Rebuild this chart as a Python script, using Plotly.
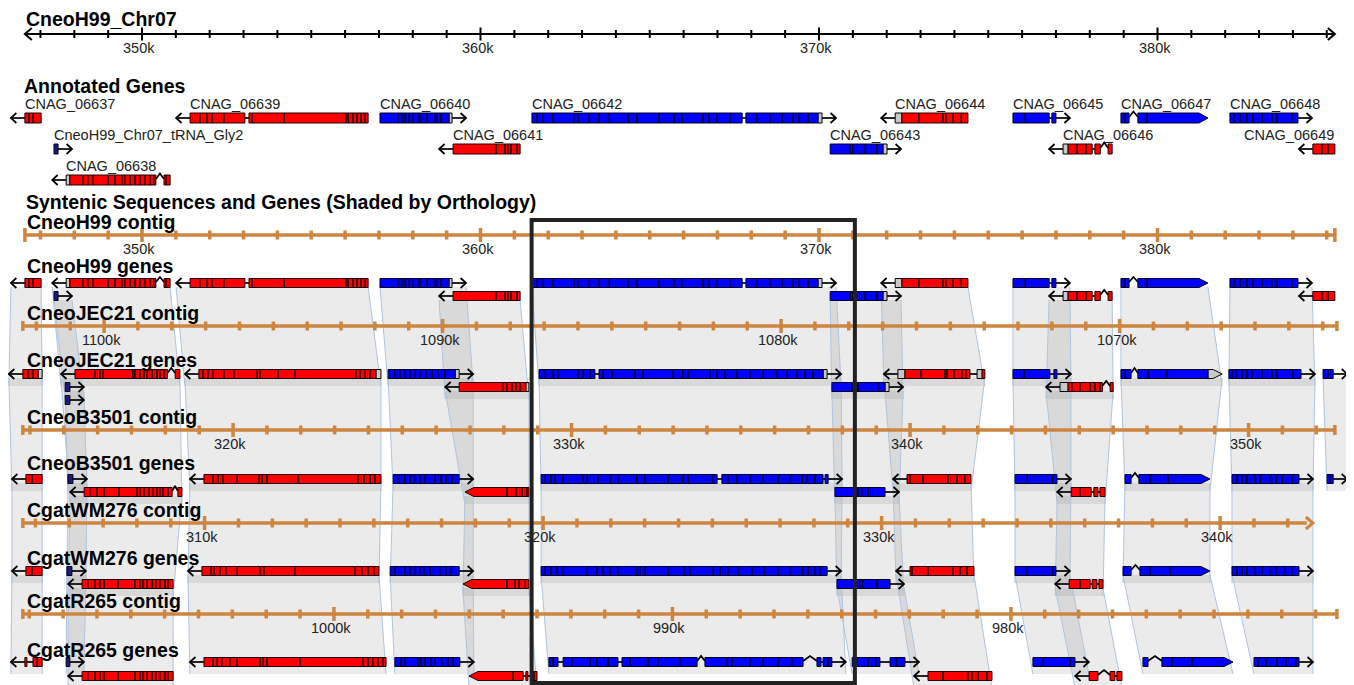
import math
import plotly.graph_objects as go

# ---------------------------------------------------------------- data ----
VIEW_KB = [345.805, 385.805]          # window on CneoH99 Chr07 (kb)
RULER_KB = [346.54, 385.24]

TRACK_NAMES = ["CneoH99", "CneoJEC21", "CneoB3501", "CgatWM276", "CgatR265"]
CONTIG_REF_COORD = [350, 1100, 320, 310, 1000]        # contig coordinate (kb) of a reference tick
CONTIG_REF_POS = [350.00, 348.88, 352.69, 351.85, 355.67]  # same tick in H99 frame (kb)
CONTIG_DIR = [1, -1, 1, 1, -1]
CONTIG_START = [346.54, 346.48, 346.48, 346.48, 346.48]
CONTIG_END = [385.24, 385.30, 385.24, 384.59, 385.30]
CONTIG_ARROW_END = [False, False, False, True, False]

HIGHLIGHT_KB = [361.51, 371.06]

GENE_LABEL = {"tRNA": "CneoH99_Chr07_tRNA_Gly2"}

# gene: (id, strand, exon runs ["^" = spliced caret intron], UTR boxes, pointed)
H99_GENES = [
    ("06637", "-", [[346.54, 346.66, 346.78, 347.02]], [], False),
    ("tRNA", "+", [[347.40, 347.52]], [], False),
    ("06638", "-", [[347.87, 348.26, 348.40, 348.55, 349.00, 349.20, 349.41, 349.50, 349.65, 349.79, 349.94, 350.09, 350.24, 350.35, 350.41], "^", [350.65, 350.71, 350.83]], [[347.76, 347.87]], False),
    ("06639", "-", [[351.42, 351.71, 351.92, 352.07, 352.42, 353.04], [353.16, 353.25, 354.20, 356.03, 356.09, 356.23, 356.35, 356.47, 356.59, 356.68]], [], False),
    ("06640", "+", [[357.03, 357.56, 357.68, 357.77, 357.89, 358.01, 358.15, 358.21, 358.42, 358.66, 358.72, 358.83, 359.07]], [[359.07, 359.16]], False),
    ("06641", "-", [[359.19, 360.46, 360.72, 360.81, 360.90, 361.08, 361.17]], [], False),
    ("06642", "+", [[361.52, 361.67, 361.85, 362.14, 362.76, 362.88, 363.21, 363.50, 363.80, 364.36, 364.62, 365.27, 365.72, 365.95, 366.57, 366.75, 366.99, 367.37, 367.73], [367.84, 368.17, 368.55, 368.91, 369.23, 369.41, 369.68, 369.97]], [[369.97, 370.09]], False),
    ("06643", "+", [[370.33, 370.92, 371.00, 371.36, 371.71, 371.89]], [[371.89, 372.01]], False),
    ("06644", "-", [[372.45, 372.95, 373.66, 373.75, 373.96, 374.20, 374.40]], [[372.25, 372.45]], False),
    ("06645", "+", [[375.73, 376.09, 376.80], [376.88, 377.00]], [], False),
    ("06646", "-", [[377.36, 377.62, 377.89, 378.07], [378.15, 378.31], "^", [378.54, 378.66]], [[377.21, 377.36]], False),
    ("06647", "+", [[378.92, 379.04, 379.16], "^", [379.42, 379.69, 381.49]], [], True),
    ("06648", "+", [[382.14, 382.26, 382.44, 382.64, 382.82, 383.09, 383.38, 383.53, 383.97, 384.15]], [], False),
    ("06649", "-", [[384.59, 384.86, 385.04, 385.24]], [], False),
]
ANNOT_ROW = [1, 2, 3, 1, 1, 2, 1, 2, 1, 1, 2, 1, 1, 2]
H99_ROW = [1, 2, 1, 1, 1, 2, 1, 2, 1, 1, 2, 1, 1, 2]

JEC21_GENES = [
    ("06637", "-", [[346.48, 346.63, 346.78, 346.93]], [[346.93, 347.05]], False, 1),
    ("tRNA", "+", [[347.73, 347.87]], [], False, 2),
    ("tRNA_b", "+", [[347.73, 347.87]], [], False, 3),
    ("06638", "-", [[348.02, 348.61, 348.76, 348.85, 349.73, 349.79, 349.94, 350.06, 350.15, 350.30, 350.44, 350.53, 350.65, 350.75], "^", [350.98, 351.12]], [], False, 1),
    ("06639", "-", [[351.68, 351.80, 351.95, 352.10, 352.42, 352.72, 353.40, 353.49, 354.02, 354.52, 356.32, 356.44, 356.59, 356.74, 356.91]], [[356.91, 357.06]], False, 1),
    ("06640", "+", [[357.27, 357.47, 357.62, 357.77, 357.92, 358.07, 358.21, 358.39, 358.57, 358.74, 358.95, 359.25]], [[359.25, 359.37]], False, 1),
    ("06641", "-", [[359.37, 360.67, 360.78, 360.93, 361.05, 361.17, 361.34]], [[361.34, 361.43]], False, 2),
    ("06642", "+", [[361.73, 361.91, 362.14, 362.29, 362.88, 363.03, 363.24, 363.38], [363.50, 363.62, 363.89, 364.56, 364.80, 365.69, 365.98, 366.13, 366.78, 366.99, 367.22, 367.58, 367.96, 368.35, 368.76, 369.06, 369.35, 369.59, 369.82, 370.12]], [[370.12, 370.24]], False, 1),
    ("06643", "+", [[370.38, 370.98, 371.15, 371.74, 371.95]], [[371.95, 372.07]], False, 2),
    ("06644", "-", [[372.54, 373.01, 373.72, 373.78, 373.99, 374.22, 374.34, 374.46], [374.82, 374.90]], [[372.33, 372.54], [374.67, 374.82]], False, 1),
    ("06645", "+", [[375.73, 376.06, 376.82], [376.94, 377.03]], [], False, 1),
    ("06646", "-", [[377.36, 377.47, 377.71, 378.01, 378.15, 378.30, 378.37], "^", [378.60, 378.69]], [[377.12, 377.36]], False, 2),
    ("06647", "+", [[378.92, 379.04, 379.22], "^", [379.42, 379.72, 380.28, 381.49]], [[381.49, 381.91]], True, 1),
    ("06648", "+", [[382.11, 382.20, 382.32, 382.50, 382.64, 382.79, 383.09, 383.38, 383.53, 384.00, 384.24]], [], False, 1),
    ("X", "+", [[384.89, 385.04, 385.19]], [], False, 1),
]

B3501_GENES = [
    ("06637", "-", [[346.57, 346.75, 347.05]], [], False, 1),
    ("tRNA", "+", [[347.81, 347.96]], [], False, 1),
    ("06638", "-", [[348.29, 348.46, 348.67, 348.88, 349.32, 349.85, 349.94, 350.06, 350.21, 350.33, 350.44, 350.53, 350.62, 350.77, 350.89], "^", [351.06, 351.18]], [], False, 2),
    ("06639", "-", [[351.83, 352.10, 352.25, 352.39, 352.81, 353.46, 353.55, 353.69, 354.61, 356.38, 356.56, 356.74, 356.88, 357.06]], [], False, 1),
    ("06640", "+", [[357.42, 357.56, 357.77, 357.92, 358.07, 358.21, 358.36, 358.66, 358.83, 358.98, 359.16, 359.37]], [], False, 1),
    ("06641", "-", [[359.54, 360.78, 361.05, 361.23, 361.37, 361.43]], [], True, 2),
    ("06642", "+", [[361.79, 361.91, 362.08, 362.20, 362.44, 363.03, 363.15, 363.47, 363.83, 364.06, 364.62, 364.86, 365.54, 365.98, 366.13, 366.87, 366.99], [367.13, 367.31, 367.58, 367.96, 368.35, 368.79, 369.14, 369.50, 369.65, 369.88, 370.12], [370.18, 370.27]], [], False, 1),
    ("06643", "+", [[370.47, 371.15, 371.27, 371.45, 371.95]], [], False, 2),
    ("06644", "-", [[372.60, 372.69, 373.07, 373.81, 374.08, 374.31, 374.49]], [], False, 1),
    ("06645", "+", [[375.79, 376.15, 376.91, 377.03]], [], False, 1),
    ("06646", "-", [[377.45, 377.71, 378.04], [378.12, 378.24], [378.30, 378.45]], [], False, 2),
    ("06647", "+", [[379.04, 379.22], "^", [379.45, 379.78, 380.31, 381.55]], [], True, 1),
    ("06648", "+", [[382.20, 382.35, 382.50, 382.64, 382.88, 383.03, 383.32, 383.50, 383.68, 383.97, 384.18]], [], False, 1),
    ("X", "+", [[385.01, 385.10, 385.19]], [], False, 1),
]

WM276_GENES = [
    ("06637", "-", [[346.57, 346.75, 347.05]], [], False, 1),
    ("tRNA", "+", [[347.78, 347.93]], [], False, 1),
    ("06638", "-", [[348.23, 348.40, 348.61, 348.76, 348.88, 349.29, 349.79, 349.94, 350.03, 350.15, 350.30, 350.41, 350.53, 350.68, 350.77, 350.92]], [], False, 2),
    ("06639", "-", [[351.77, 352.04, 352.13, 352.30, 352.48, 352.81, 353.49, 353.60, 354.52, 356.29, 356.50, 356.68, 356.85, 357.00]], [], False, 1),
    ("06640", "+", [[357.33, 357.47, 357.77, 357.92, 358.07, 358.21, 358.33, 358.51, 358.80, 358.98, 359.13, 359.37]], [], False, 1),
    ("06641", "-", [[359.48, 360.78, 361.02, 361.14, 361.32, 361.43]], [], True, 2),
    ("06642", "+", [[361.79, 361.91, 362.08, 362.26, 362.44, 363.15, 363.44, 363.62, 363.83, 364.06, 364.62, 364.71, 364.86, 365.54, 366.01, 366.19, 366.87, 367.08, 367.31, 367.61, 368.02, 368.38, 368.79, 369.14, 369.50, 369.68, 369.88, 370.03, 370.24]], [], False, 1),
    ("06643", "+", [[370.53, 371.21, 371.30, 371.71, 372.10]], [], False, 2),
    ("06644", "-", [[372.69, 372.75, 373.22, 373.96, 374.17, 374.37, 374.58]], [], False, 1),
    ("06645", "+", [[375.79, 376.15, 376.91, 377.00]], [], False, 1),
    ("06646", "-", [[377.39, 377.71, 378.01], [378.07, 378.21], [378.27, 378.39]], [], False, 2),
    ("06647", "+", [[378.98, 379.22], "^", [379.48, 379.78, 380.37, 381.55]], [], True, 1),
    ("06648", "+", [[382.20, 382.35, 382.50, 382.64, 382.88, 383.09, 383.32, 383.50, 383.77, 383.97, 384.18]], [], False, 1),
]

R265_GENES = [
    ("06637", "-", [[346.54, 346.60], [346.78, 346.90, 347.05]], [], False, 1),
    ("tRNA", "+", [[347.76, 347.87]], [], False, 1),
    ("06638", "-", [[348.23, 348.40, 348.61, 348.76, 348.88, 349.29, 349.79, 349.94, 350.03, 350.15, 350.30, 350.41, 350.53, 350.68, 350.77, 350.92]], [], False, 2),
    ("06639", "-", [[351.83, 352.10, 352.22, 352.36, 352.60, 352.81, 353.49, 353.58, 353.69, 354.67, 356.53, 356.68, 356.82, 356.97, 357.12, 357.21]], [], False, 1),
    ("06640", "+", [[357.47, 357.65, 357.77, 358.15, 358.24, 358.36, 358.54, 358.66, 358.86, 359.04, 359.19, 359.39]], [], False, 1),
    ("06641", "-", [[359.66, 360.96, 361.26], [361.34, 361.40], [361.49, 361.58, 361.67]], [], True, 2),
    ("06642", "+", [[362.02, 362.14, 362.29], [362.44, 362.70, 363.24, 363.44, 363.77, 364.06], [364.18, 364.42, 364.95, 365.24, 365.89, 366.40], "^", [366.63, 367.28, 367.43, 367.96, 368.35, 368.79, 369.20, 369.53], "^", [369.94, 370.06], [370.12, 370.27, 370.38]], [], False, 1),
    ("06643", "+", [[370.98, 371.45, 371.68, 371.80], [372.10, 372.28, 372.54]], [], False, 1),
    ("06644", "-", [[373.22, 373.66, 374.40, 374.52, 374.70, 374.96, 375.11]], [], False, 2),
    ("06645", "+", [[376.32, 376.62, 377.42, 377.56]], [], False, 1),
    ("06646", "-", [[377.98, 378.24], "^", [378.60, 378.74], [378.80, 378.95]], [], False, 2),
    ("06647", "+", [[379.57, 379.72], "^", [380.13, 380.43, 381.02, 382.23]], [], True, 1),
    ("06648", "+", [[382.85, 382.97, 383.21, 383.53, 383.80, 384.09, 384.18]], [], False, 1),
]

# -------------------------------------------------------------- layout ----
W, H = 1354, 685
PAGE_OFF = 8            # browser body margin: shift drawing so it lands on the window grid
PX = (VIEW_KB[1] - VIEW_KB[0]) / W
FONT = "Liberation Sans, Arial, Helvetica, sans-serif"
RED, BLUE, TRNA, UTR_GRAY = "#ff0000", "#0000ff", "#1c1c78", "#c8c8c8"
PERU = "#cd853f"

ANNOT_ROW_Y = {1: 118, 2: 149, 3: 180}
TRACK_ROW_Y = [{1: 283, 2: 296}, {1: 374, 2: 387, 3: 400}, {1: 479, 2: 492},
               {1: 571, 2: 584}, {1: 662, 2: 676}]
CONTIG_Y = [235, 326, 430, 523, 614]
GENES_HEAD_Y = [266, 360, 463, 558, 650]
RULER_Y = 34

shapes, annotations = [], []


def px_paper(px):
    return (px - PAGE_OFF) / W


def text(x, y, s, size, bold=False, xref="x", anchor="left", color="#222", xshift=0):
    annotations.append(dict(x=x, y=y, xref=xref, yref="y", text=(f"<b>{s}</b>" if bold else s),
                            showarrow=False, xanchor=anchor, yanchor="middle", borderpad=0,
                            xshift=xshift, font=dict(family=FONT, size=size, color=color)))


def new_acc():
    return {k: ([], []) for k in ("line", "red", "blue", "trna", "utr")}


def add_path(acc, key, pts, close=False):
    xs, ys = acc[key]
    p = pts + ([pts[0]] if close else [])
    xs.extend([q[0] for q in p] + [None])
    ys.extend([q[1] for q in p] + [None])


def parse_runs(runs):
    blocks, introns, caret, prev = [], [], False, None
    for r in runs:
        if r == "^":
            caret = True
            continue
        if prev is not None:
            introns.append((prev, r[0], caret))
        caret = False
        blocks.extend(zip(r[:-1], r[1:]))
        prev = r[-1]
    return blocks, introns


def box_pts(a, b, y, hh, point=None):
    pt = min(9 * PX, b - a)
    if point == "+":
        return [(a, y - hh), (b - pt, y - hh), (b, y), (b - pt, y + hh), (a, y + hh)]
    if point == "-":
        return [(a, y), (a + pt, y - hh), (b, y - hh), (b, y + hh), (a + pt, y + hh)]
    return [(a, y - hh), (b, y - hh), (b, y + hh), (a, y + hh)]


def render_gene(gene, y, hh, acc):
    gid, strand, runs, utrs, pointed = gene[:5]
    blocks, introns = parse_runs(runs)
    utr_boxes = [tuple(u) for u in utrs]
    every = blocks + utr_boxes
    start = min(b[0] for b in every)
    end = max(b[1] for b in every)
    tip_box = None
    if pointed:
        tip_box = max(every, key=lambda b: b[1]) if strand == "+" else min(every, key=lambda b: b[0])
    for a, b, caret in introns:
        if caret:
            add_path(acc, "line", [(a, y - 1), ((a + b) / 2, y - hh - 1.5), (b, y - 1)])
        else:
            add_path(acc, "line", [(a, y), (b, y)])
    lo, hi = start, end
    if not pointed:
        d = 1 if strand == "+" else -1
        base = end if strand == "+" else start
        tip = base + d * 14 * PX
        add_path(acc, "line", [(base, y), (tip, y)])
        add_path(acc, "line", [(tip - d * 5.5 * PX, y - 5), (tip, y), (tip - d * 5.5 * PX, y + 5)])
        lo, hi = min(lo, tip), max(hi, tip)
    if gid.startswith("tRNA"):
        col = "trna"
    else:
        col = "blue" if strand == "+" else "red"
    for bx in blocks:
        add_path(acc, col, box_pts(bx[0], bx[1], y, hh, strand if bx == tip_box else None), close=True)
    for bx in utr_boxes:
        add_path(acc, "utr", box_pts(bx[0], bx[1], y, hh, strand if bx == tip_box else None), close=True)
    return start, end, lo, hi


acc = new_acc()

# ---- annotated genes (top)
for g, r in zip(H99_GENES, ANNOT_ROW):
    y = ANNOT_ROW_Y[r]
    start, end, lo, hi = render_gene(g, y, 5, acc)
    label = GENE_LABEL.get(g[0], "CNAG_" + g[0])
    if start + 95 * PX > VIEW_KB[1] - 12 * PX:
        text(end, y - 14, label, 14.5, anchor="right")
    else:
        text(start, y - 14, label, 14.5, xshift=-1)

# ---- syntenic gene tracks
track_genes = [[g + (r,) for g, r in zip(H99_GENES, H99_ROW)], JEC21_GENES, B3501_GENES,
               WM276_GENES, R265_GENES]
extents = []
for ti, genes in enumerate(track_genes):
    ext = {}
    for g in genes:
        y = TRACK_ROW_Y[ti][g[5]]
        _, _, lo, hi = render_gene(g, y, 4.5, acc)
        ext[g[0]] = (lo, hi, y)
    extents.append(ext)

# ---- orthology shading between consecutive tracks
edge_x, edge_y = [], []
for ti in range(len(extents) - 1):
    A, B = extents[ti], extents[ti + 1]
    for gid, (loA, hiA, yA) in A.items():
        if gid not in B:
            continue
        loB, hiB, yB = B[gid]
        ya, yb = yA + 4, yB + 12
        shapes.append(dict(type="path", xref="x", yref="y", layer="below",
                           path=f"M{loA},{ya} L{hiA},{ya} L{hiB},{yb} L{loB},{yb} Z",
                           fillcolor="rgba(110,110,110,0.14)", line=dict(width=0)))
        edge_x += [loA, loB, None, hiA, hiB, None]
        edge_y += [ya, yb, None, ya, yb, None]

fig = go.Figure()


def lines_trace(xs, ys, color, width):
    fig.add_trace(go.Scatter(x=xs, y=ys, mode="lines", line=dict(color=color, width=width),
                             hoverinfo="skip", showlegend=False))


def fill_trace(xs, ys, fill, outline="#000000", width=1):
    fig.add_trace(go.Scatter(x=xs, y=ys, mode="lines", fill="toself", fillcolor=fill,
                             line=dict(color=outline, width=width), hoverinfo="skip",
                             showlegend=False))


lines_trace(edge_x, edge_y, "#b0c4de", 1)

# ---- contigs
for ci in range(len(TRACK_NAMES)):
    y = CONTIG_Y[ci]
    s, e = CONTIG_START[ci], CONTIG_END[ci]
    ref_c, ref_p, d = CONTIG_REF_COORD[ci], CONTIG_REF_POS[ci], CONTIG_DIR[ci]
    line_end = e - (6 * PX if CONTIG_ARROW_END[ci] else 0)
    lines_trace([s, line_end], [y, y], PERU, 3.5)
    c_lo = ref_c + d * (s - ref_p)
    c_hi = ref_c + d * (e - ref_p)
    c_lo, c_hi = min(c_lo, c_hi), max(c_lo, c_hi)
    mx, my, Mx, My = [], [], [], []
    for c in range(math.ceil(c_lo), math.floor(c_hi) + 1):
        p = ref_p + d * (c - ref_c)
        if c % 10 == 0:
            Mx += [p, p, None]
            My += [y - 7, y + 7, None]
            text(p, y + 13.5, f"{c}k", 14.5, anchor="center", xshift=-3)
        else:
            mx += [p, p, None]
            my += [y - 4.5, y + 4.5, None]
    caps = [s] + ([] if CONTIG_ARROW_END[ci] else [e])
    ch = 7 if ci == 0 else 5
    for p in caps:
        Mx += [p, p, None]
        My += [y - ch, y + ch, None]
    lines_trace(mx, my, PERU, 3.5)
    lines_trace(Mx, My, PERU, 3.5)
    if CONTIG_ARROW_END[ci]:
        lines_trace([e - 7 * PX, e, e - 7 * PX], [y - 6, y, y + 6], PERU, 3)
    text(px_paper(26), y - 13, f"{TRACK_NAMES[ci]} contig", 19.5, bold=True, xref="paper",
         color="#000")
    text(px_paper(26), GENES_HEAD_Y[ci], f"{TRACK_NAMES[ci]} genes", 19.5, bold=True,
         xref="paper", color="#000")

# ---- top ruler (H99 Chr07)
rs, re_ = RULER_KB
lines_trace([rs, re_], [RULER_Y, RULER_Y], "#000", 2)
lines_trace([rs + 7 * PX, rs, rs + 7 * PX], [RULER_Y - 6, RULER_Y, RULER_Y + 6], "#000", 2)
lines_trace([re_ - 7 * PX, re_, re_ - 7 * PX], [RULER_Y - 6, RULER_Y, RULER_Y + 6], "#000", 2)
tx, ty = [], []
for c in range(math.ceil(rs), math.floor(re_) + 1):
    h = 6.5 if c % 10 == 0 else 4
    tx += [c, c, None]
    ty += [RULER_Y - h, RULER_Y + h, None]
    if c % 10 == 0:
        text(c, RULER_Y + 14, f"{c}k", 14.5, anchor="center", xshift=-3)
lines_trace(tx, ty, "#000", 2)

# ---- genes
lines_trace(acc["line"][0], acc["line"][1], "#000", 1.7)
fill_trace(acc["utr"][0], acc["utr"][1], UTR_GRAY)
fill_trace(acc["red"][0], acc["red"][1], RED, "#200000")
fill_trace(acc["blue"][0], acc["blue"][1], BLUE, "#000020")
fill_trace(acc["trna"][0], acc["trna"][1], TRNA, "#000020")

# ---- headings
text(px_paper(25), 19, "CneoH99_Chr07", 19.5, bold=True, xref="paper", color="#000")
text(px_paper(23), 86, "Annotated Genes", 19.5, bold=True, xref="paper", color="#000")
text(px_paper(25), 202, "Syntenic Sequences and Genes (Shaded by Orthology)", 19.5, bold=True,
     xref="paper", color="#000")

# ---- highlighted region
shapes.append(dict(type="rect", xref="x", yref="y", x0=HIGHLIGHT_KB[0], x1=HIGHLIGHT_KB[1],
                   y0=220, y1=683, line=dict(color="#222", width=4), layer="above"))

fig.update_layout(
    width=W, height=H, margin=dict(l=0, r=0, t=0, b=0),
    paper_bgcolor="white", plot_bgcolor="white", showlegend=False,
    xaxis=dict(range=[VIEW_KB[0] + PAGE_OFF * PX, VIEW_KB[1] + PAGE_OFF * PX],
               visible=False, fixedrange=True),
    yaxis=dict(range=[H + PAGE_OFF, PAGE_OFF], visible=False, fixedrange=True),
    shapes=shapes, annotations=annotations,
)
fig.write_html("out.html")
